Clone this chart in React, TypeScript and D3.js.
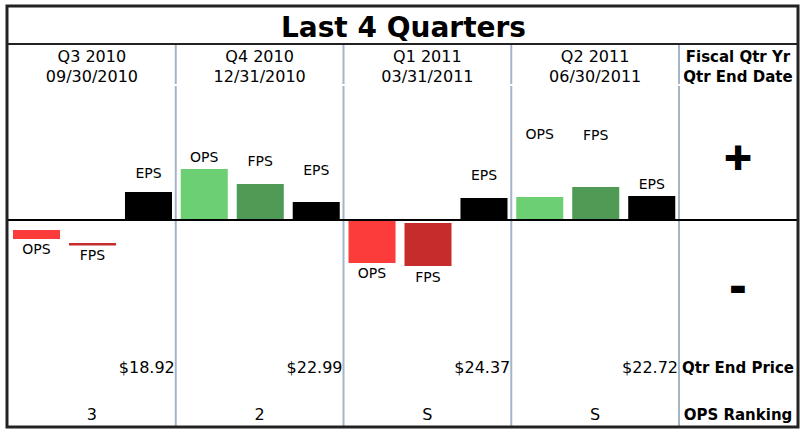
import React from "react";
import * as d3 from "d3";

const quarters = ["Q3 2010", "Q4 2010", "Q1 2011", "Q2 2011"];
const endDates = ["09/30/2010", "12/31/2010", "03/31/2011", "06/30/2011"];
const prices = ["$18.92", "$22.99", "$24.37", "$22.72"];
const rankings = ["3", "2", "S", "S"];
const seriesNames = ["OPS", "FPS", "EPS"];

// bar extents (value units) per series, per quarter
const opsHigh = [-0.1, 0.51, -0.005, 0.23];
const opsLow = [-0.19, 0, -0.43, 0];
const fpsHigh = [-0.23, 0.36, -0.03, 0.33];
const fpsLow = [-0.255, 0, -0.46, 0];
const epsHigh = [0.28, 0.18, 0.22, 0.24];
const epsLow = [0, 0, 0, 0];

// label anchor values (value units)
const opsLabel = [-0.29, 0.63, -0.53, 0.86];
const fpsLabel = [-0.35, 0.59, -0.57, 0.85];
const epsLabel = [0.47, 0.5, 0.45, 0.36];

const FONT = "'DejaVu Sans', Verdana, sans-serif";

export default function App() {
  const W = 800;
  const H = 433;
  const left = 8;
  const right = 797;
  const top = 6;
  const bottom = 427;
  const titleLine = 44;

  const xCol = d3.scaleBand<string>().domain(quarters).range([left, 679]);
  const labelColX = 679;
  const labelColCenter = (labelColX + right) / 2;

  const y = d3.scaleLinear().domain([-1.36, 1.36]).range([356, 84]);
  const zeroY = y(0);

  const highs: Record<string, number[]> = { OPS: opsHigh, FPS: fpsHigh, EPS: epsHigh };
  const lows: Record<string, number[]> = { OPS: opsLow, FPS: fpsLow, EPS: epsLow };
  const labels: Record<string, number[]> = { OPS: opsLabel, FPS: fpsLabel, EPS: epsLabel };

  const colorPos: Record<string, string> = { OPS: "#6ccf74", FPS: "#4f9a55", EPS: "#000000" };
  const colorNeg: Record<string, string> = { OPS: "#fc3b3b", FPS: "#c52d2d", EPS: "#000000" };

  const dividers = [...quarters.slice(1).map((q) => xCol(q) as number), labelColX];

  return (
    <svg width={W} height={H} style={{ position: "absolute", left: 0, top: 0 }}>
      <rect x={0} y={0} width={W} height={H} fill="#fff" />
      {/* dividers */}
      {dividers.map((dx, i) => (
        <g key={"d" + i}>
          <line x1={dx} x2={dx} y1={titleLine} y2={84} stroke="#a3b5c9" strokeWidth={2} />
          <line x1={dx} x2={dx} y1={86} y2={bottom} stroke="#a3b5c9" strokeWidth={2} />
        </g>
      ))}
      {/* title */}
      <text x={(left + right) / 2 + 1} y={37} textAnchor="middle" fontFamily={FONT} fontWeight="bold" fontSize={28}>
        Last 4 Quarters
      </text>
      <line x1={left - 1} x2={right + 1} y1={titleLine} y2={titleLine} stroke="#222" strokeWidth={2} />

      {/* quarter columns */}
      {quarters.map((q, i) => {
        const x0 = xCol(q) as number;
        const bw = xCol.bandwidth();
        const xBar = d3.scaleBand<string>().domain(seriesNames).range([x0 + 5, x0 + 164]).paddingInner(0.16);
        return (
          <g key={q}>
            <text x={x0 + bw / 2} y={62} textAnchor="middle" fontFamily={FONT} fontSize={16}>
              {q}
            </text>
            <text x={x0 + bw / 2} y={82} textAnchor="middle" fontFamily={FONT} fontSize={16}>
              {endDates[i]}
            </text>
            {seriesNames.map((s) => {
              const hi = highs[s][i];
              const lo = lows[s][i];
              const neg = hi <= 0 && lo < 0;
              const bx = xBar(s) as number;
              const yTop = y(hi);
              const yBot = y(lo);
              return (
                <g key={s}>
                  <rect
                    x={bx}
                    y={yTop}
                    width={xBar.bandwidth()}
                    height={Math.max(0, yBot - yTop)}
                    fill={neg ? colorNeg[s] : colorPos[s]}
                  />
                  <text
                    x={bx + xBar.bandwidth() / 2}
                    y={y(labels[s][i])}
                    dy="0.36em"
                    textAnchor="middle"
                    fontFamily={FONT}
                    fontSize={14}
                  >
                    {s}
                  </text>
                </g>
              );
            })}
            <text x={x0 + bw - 1} y={373} textAnchor="end" fontFamily={FONT} fontSize={16}>
              {prices[i]}
            </text>
            <text x={x0 + bw / 2} y={420} textAnchor="middle" fontFamily={FONT} fontSize={16}>
              {rankings[i]}
            </text>
          </g>
        );
      })}

      {/* zero line */}
      <line x1={left} x2={right} y1={zeroY} y2={zeroY} stroke="#000" strokeWidth={2} />

      {/* right label column */}
      <text x={labelColCenter} y={62} textAnchor="middle" fontFamily={FONT} fontWeight="bold" fontSize={15}>
        Fiscal Qtr Yr
      </text>
      <text x={labelColCenter} y={82} textAnchor="middle" fontFamily={FONT} fontWeight="bold" fontSize={15}>
        Qtr End Date
      </text>
      <text x={labelColCenter} y={169} textAnchor="middle" fontFamily={FONT} fontWeight="bold" fontSize={36} stroke="#000" strokeWidth={2}>
        +
      </text>
      <text x={labelColCenter} y={300} textAnchor="middle" fontFamily={FONT} fontWeight="bold" fontSize={38} stroke="#000" strokeWidth={2}>
        -
      </text>
      <text x={labelColCenter} y={373} textAnchor="middle" fontFamily={FONT} fontWeight="bold" fontSize={15}>
        Qtr End Price
      </text>
      <text x={labelColCenter} y={420} textAnchor="middle" fontFamily={FONT} fontWeight="bold" fontSize={15}>
        OPS Ranking
      </text>

      {/* outer border */}
      <rect x={left - 1} y={top} width={right - left + 2} height={bottom - top} fill="none" stroke="#222" strokeWidth={3} />
    </svg>
  );
}
